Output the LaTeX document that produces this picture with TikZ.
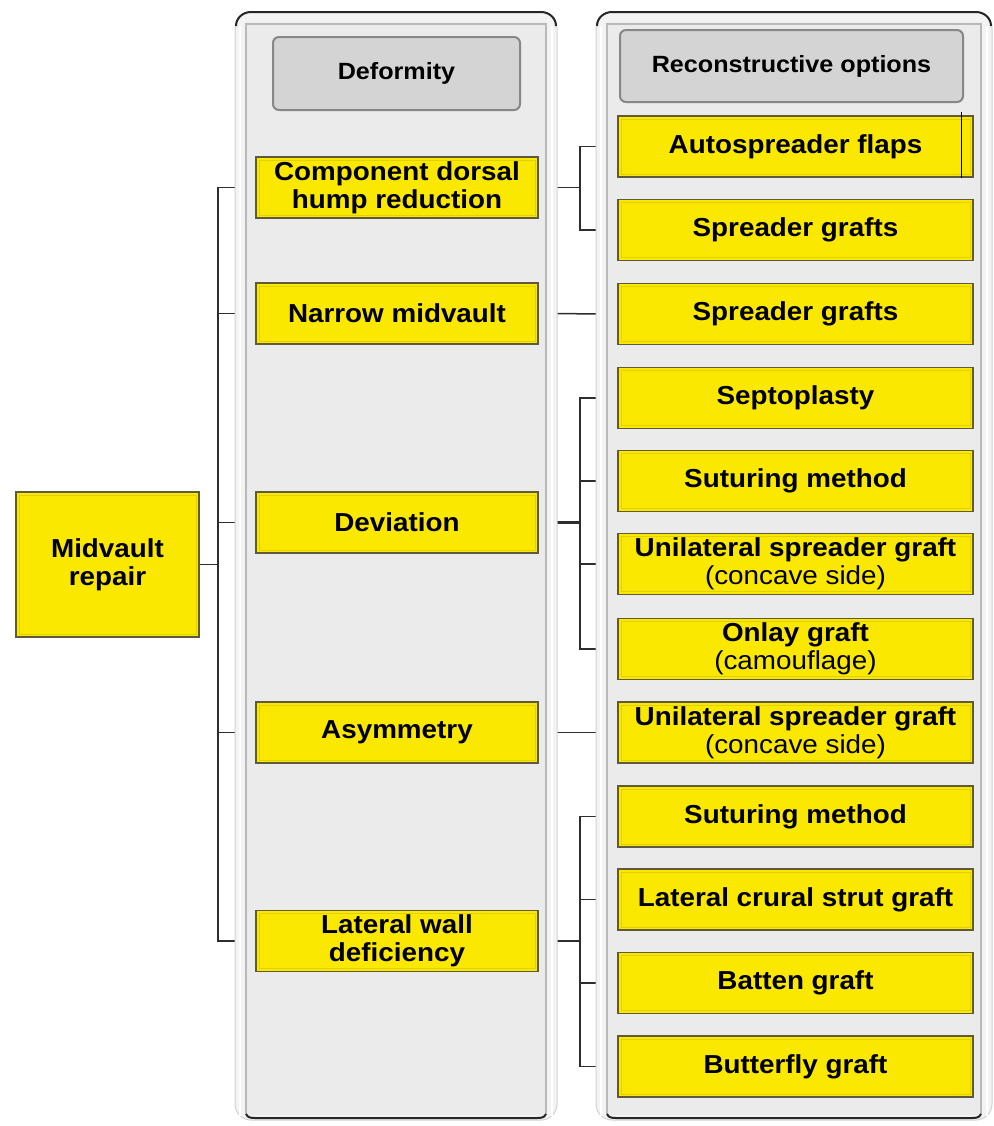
\documentclass[tikz,border=0pt]{standalone}
\usepackage{fontspec}
\setmainfont{Liberation Sans}[FakeStretch=1.07]
\pgfdeclarelayer{background}
\pgfsetlayers{background,main}

\definecolor{boxyellow}{RGB}{250,232,0}
\definecolor{boxedge}{RGB}{95,90,60}
\definecolor{headgray}{RGB}{212,212,212}
\definecolor{headedge}{RGB}{135,135,135}
\definecolor{panelout}{RGB}{243,243,243}
\definecolor{panelin}{RGB}{235,235,235}
\definecolor{linkgray}{RGB}{45,45,45}

\tikzset{
  ybox/.style={draw=boxedge, fill=boxyellow, line width=0.6pt, inner sep=0pt, align=center,
    font=\fontsize{13}{14}\selectfont\bfseries,
    path picture={\draw[boxyellow!90!black, line width=0.25pt]
      ([shift={(1.5pt,-1.5pt)}]path picture bounding box.north west) rectangle
      ([shift={(-1.5pt,1.5pt)}]path picture bounding box.south east);}},
  lbox/.style={ybox, minimum width=141pt, minimum height=30.5pt},
  rbox/.style={ybox, minimum width=177.5pt, minimum height=30.5pt},
  headbox/.style={draw=headedge, fill=headgray, rounded corners=3pt, line width=1pt,
    inner sep=0pt, font=\fontsize{11.75}{13}\selectfont\bfseries},
  link/.style={draw=linkgray, line width=0.75pt},
}

\begin{document}
\begin{tikzpicture}[x=0.5pt,y=-0.5pt]
  \useasboundingbox (0,0) rectangle (993,1126);

  % the two column panels
  \foreach \xa/\xb in {235/557, 596/992}{
    \draw[gray!35, fill=panelout, line width=0.5pt, rounded corners=8] (\xa,12) rectangle (\xb,1120);
    \draw[white, line width=1.2pt] (\xa+5,26) -- (\xa+5,1116) (\xb-5,26) -- (\xb-5,1116);
    \fill[panelin] (\xa+11,22) rectangle (\xb-11,1115);
    \draw[gray!55, line width=0.6pt] (\xa+11,1115) -- (\xa+11,24) -- (\xb-11,24) -- (\xb-11,1115);
    \draw[gray!30!black, line width=1pt] (\xa+1,26) to[out=90,in=180] (\xa+16,12) -- (\xb-16,12) to[out=0,in=90] (\xb-1,26);
    \draw[gray!30!black, line width=1pt] (\xa+11,1114) to[out=-70,in=180] (\xa+22,1118) -- (\xb-22,1118) to[out=0,in=-110] (\xb-11,1114);
  }

  % headers
  \node[headbox, minimum width=123.5pt, minimum height=36.5pt] (hdef) at (396.5,73.5) {Deformity};
  \node[headbox, minimum width=171.5pt, minimum height=36pt] (hrec) at (791.5,66) {Reconstructive options};

  % root
  \node[ybox, minimum width=91.5pt, minimum height=72.5pt] (mid) at (107.5,564.5) {Midvault\\repair};

  % deformities
  \node[lbox] (comp) at (397,187.5) {Component dorsal\\hump reduction};
  \node[lbox] (narrow) at (397,313.5) {Narrow midvault};
  \node[lbox] (dev) at (397,522.5) {Deviation};
  \node[lbox] (asym) at (397,732.5) {Asymmetry};
  \node[lbox] (lat) at (397,941) {Lateral wall\\deficiency};

  % options
  \node[rbox] (auto) at (795.5,146.5) {Autospreader flaps};
  \node[rbox] (spr) at (795.5,230) {Spreader grafts};
  \node[rbox] (spr2) at (795.5,314) {Spreader grafts};
  \node[rbox] (sept) at (795.5,398) {Septoplasty};
  \node[rbox] (sut) at (795.5,481) {Suturing method};
  \node[rbox] (uni) at (795.5,564) {Unilateral spreader graft\\{\mdseries (concave side)}};
  \node[rbox] (onlay) at (795.5,649) {Onlay graft\\{\mdseries (camouflage)}};
  \node[rbox] (uni2) at (795.5,732.5) {Unilateral spreader graft\\{\mdseries (concave side)}};
  \node[rbox] (sut2) at (795.5,816.5) {Suturing method};
  \node[rbox] (lcs) at (795.5,899.5) {Lateral crural strut graft};
  \node[rbox] (batt) at (795.5,983) {Batten graft};
  \node[rbox] (butt) at (795.5,1066.5) {Butterfly graft};
  \draw[black, line width=0.8pt] ([xshift=-6pt,yshift=1.5pt]auto.north east) -- ([xshift=-6pt]auto.south east);

  % connectors, kept under the panels
  \coordinate (lj) at (218,564.5);
  \coordinate (cj) at (580,187.5);
  \coordinate (dj) at (580,522.5);
  \coordinate (wj) at (580,941);
  \begin{pgfonlayer}{background}
    \draw[link] (mid.east) -- (lj);
    \foreach \b in {comp,narrow,dev,asym,lat} \draw[link] (lj) |- (\b.west);
    \draw[link] (comp.east) -- (cj);
    \foreach \b in {auto,spr} \draw[link] (cj) |- (\b.west);
    \draw[link] (narrow.east) -- (spr2.west);
    \draw[link, line width=1.2pt] (dev.east) -- (dj);
    \foreach \b in {sept,sut,uni,onlay} \draw[link] (dj) |- (\b.west);
    \draw[link] (asym.east) -- (uni2.west);
    \draw[link, line width=1.2pt] (lat.east) -- (wj);
    \foreach \b in {sut2,lcs,batt,butt} \draw[link] (wj) |- (\b.west);
  \end{pgfonlayer}
\end{tikzpicture}
\end{document}
